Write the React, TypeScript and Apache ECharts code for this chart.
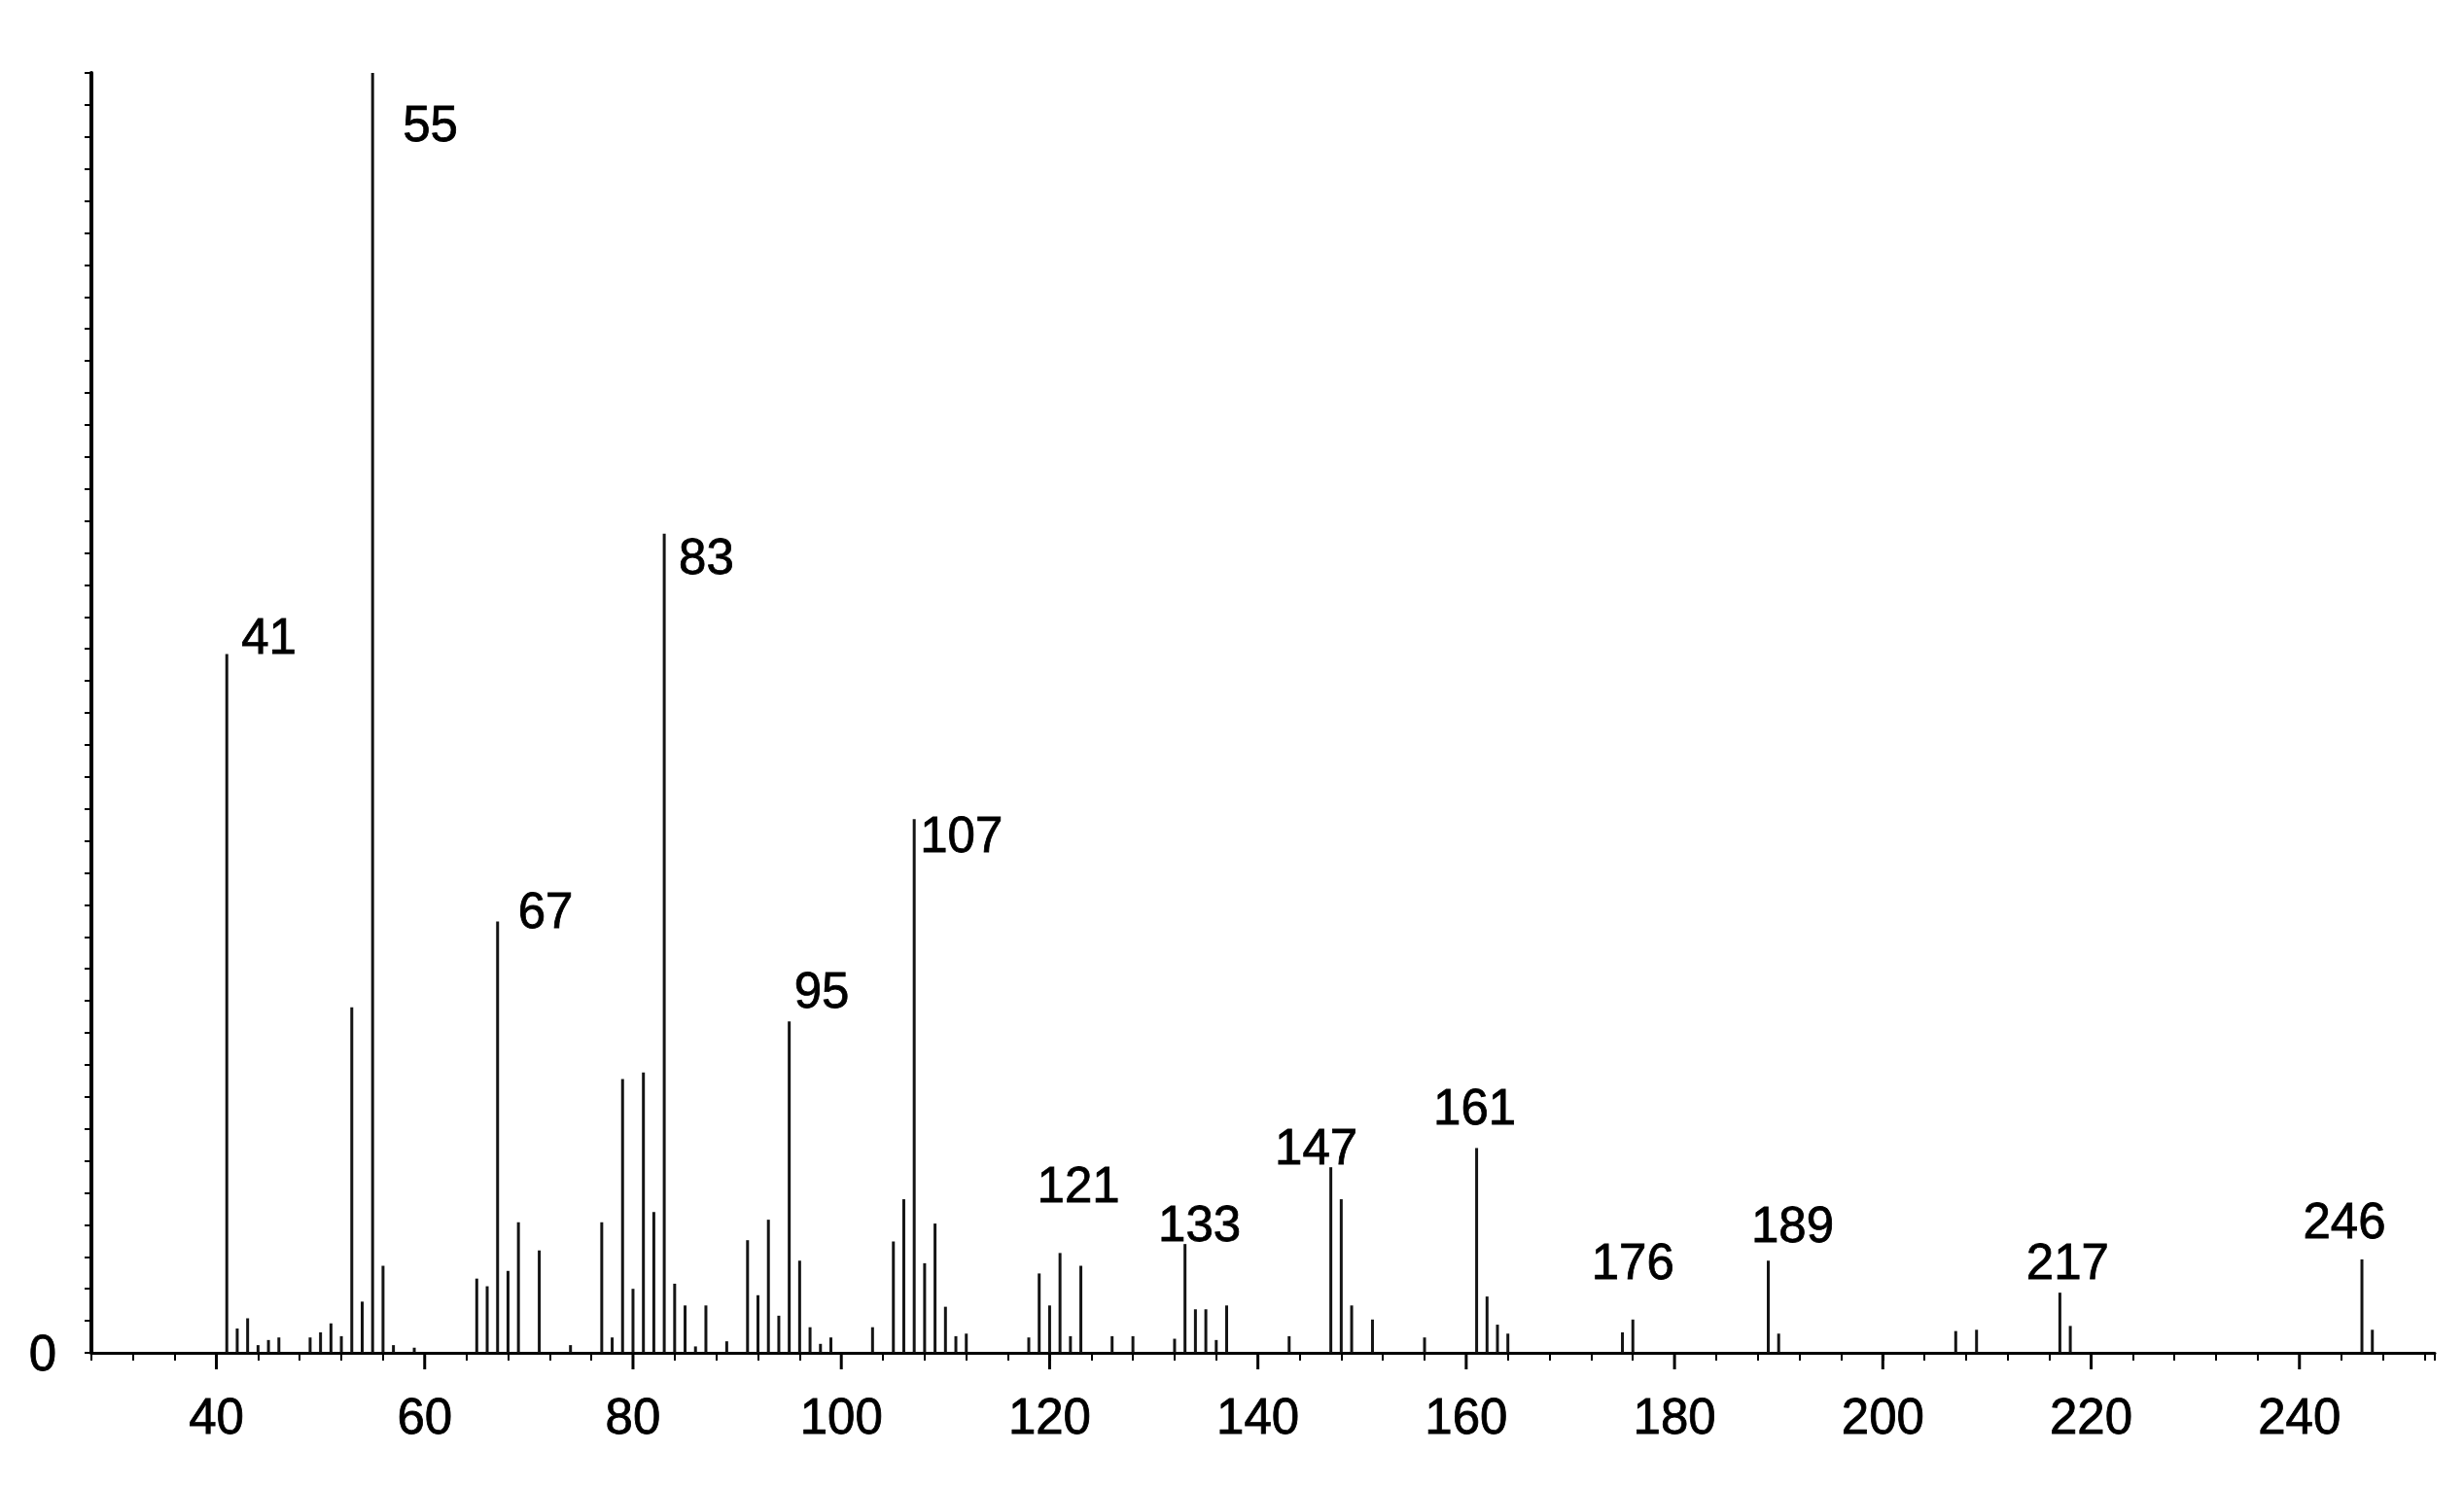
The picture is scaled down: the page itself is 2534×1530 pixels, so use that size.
import React, { useEffect, useRef } from "react";
import * as echarts from "echarts";

// m/z of each peak and its relative intensity (%)
const peakMz = [
  41, 42, 43, 44, 45, 46, 49, 50, 51, 52, 53, 54, 55, 56, 57, 59,
  65, 66, 67, 68, 69, 71, 74, 77, 78, 79, 80, 81, 82, 83, 84, 85, 86, 87, 89,
  91, 92, 93, 94, 95, 96, 97, 98, 99, 103, 105, 106, 107, 108, 109, 110, 111, 112,
  118, 119, 120, 121, 122, 123, 126, 128, 132, 133, 134, 135, 136, 137, 143,
  147, 148, 149, 151, 156, 161, 162, 163, 164, 175, 176, 189, 190,
  207, 209, 217, 218, 246, 247,
];
const peakIntensity = [
  54.6, 1.9, 2.7, 0.6, 1.0, 1.2, 1.2, 1.6, 2.3, 1.3, 27.0, 4.0, 100, 6.8, 0.6, 0.4,
  5.8, 5.2, 33.7, 6.4, 10.2, 8.0, 0.6, 10.2, 1.2, 21.4, 5.0, 21.9, 11.0, 64.0, 5.4, 3.7, 0.5, 3.7, 0.9,
  8.8, 4.5, 10.4, 2.9, 25.9, 7.2, 2.0, 0.7, 1.2, 2.0, 8.7, 12.0, 41.7, 7.0, 10.1, 3.6, 1.3, 1.5,
  1.2, 6.2, 3.7, 7.8, 1.3, 6.8, 1.3, 1.3, 1.1, 8.5, 3.4, 3.4, 1.0, 3.7, 1.3,
  14.5, 12.0, 3.7, 2.6, 1.2, 16.0, 4.4, 2.2, 1.5, 1.6, 2.6, 7.2, 1.5,
  1.7, 1.8, 4.7, 2.1, 7.3, 1.8,
];
const labelledMz = [41, 55, 67, 83, 95, 107, 121, 133, 147, 161, 176, 189, 217, 246];
const xMajorTicks = [40, 60, 80, 100, 120, 140, 160, 180, 200, 220, 240];

// label placement: [dx from peak, dy from peak top, align]
const labelPlacement: Record<number, [number, number, string]> = {
  41: [15, -18, "left"],
  55: [31, 52, "left"],
  67: [21, -11, "left"],
  83: [15, 24, "left"],
  95: [5, -32, "left"],
  107: [6, 16, "left"],
  121: [19, -70, "center"],
  133: [15, -21, "center"],
  147: [-15, -21, "center"],
  161: [-2, -42, "center"],
  176: [0, -59, "center"],
  189: [25, -37, "center"],
  217: [8, -32, "center"],
  246: [-18, -39, "center"],
};

const FONT = "'Liberation Sans', Arial, sans-serif";
const BAR_W = 3;

export default function App() {
  const ref = useRef<HTMLDivElement>(null);
  useEffect(() => {
    if (!ref.current) return;
    const chart = echarts.init(ref.current, null, { renderer: "svg" });
    const barData = peakMz.map((m, i) => {
      const item: any = { value: [m, peakIntensity[i]] };
      if (labelledMz.includes(m)) {
        const p = labelPlacement[m];
        item.label = {
          show: true,
          position: [BAR_W / 2 + p[0], p[1]],
          align: p[2],
          verticalAlign: "middle",
        };
      }
      return item;
    });
    chart.setOption({
      animation: false,
      backgroundColor: "#ffffff",
      grid: { left: 94, right: 30, top: 75, bottom: 139, containLabel: false },
      xAxis: {
        type: "value",
        min: 28,
        max: 253,
        interval: 4,
        axisLine: { show: true, lineStyle: { color: "#000", width: 3 } },
        axisTick: { show: true, length: 8, lineStyle: { color: "#000", width: 2 } },
        axisLabel: {
          margin: 40,
          fontSize: 51,
          fontFamily: FONT,
          color: "#000",
          textBorderColor: "#000",
          textBorderWidth: 0.8,
          formatter: (v: number) => (v % 20 === 0 ? String(v) : ""),
        },
        splitLine: { show: false },
      },
      yAxis: {
        type: "value",
        min: 0,
        max: 100,
        interval: 2.5,
        axisLine: { show: true, lineStyle: { color: "#000", width: 4 } },
        axisTick: { show: true, length: 7, lineStyle: { color: "#000", width: 2 } },
        axisLabel: {
          margin: 36,
          fontSize: 51,
          fontFamily: FONT,
          color: "#000",
          textBorderColor: "#000",
          textBorderWidth: 0.8,
          formatter: (v: number) => (v === 0 ? "0" : ""),
        },
        splitLine: { show: false },
      },
      series: [
        {
          type: "bar",
          data: barData,
          barWidth: BAR_W,
          itemStyle: { color: "#141414" },
          silent: true,
          label: {
            show: false,
            fontSize: 51,
            fontFamily: FONT,
            color: "#000",
            textBorderColor: "#000",
            textBorderWidth: 0.8,
            formatter: (p: any) => String(p.value[0]),
          },
        },
        {
          type: "custom",
          clip: false,
          silent: true,
          data: xMajorTicks.map((t) => [t, 0]),
          renderItem: (params: any, api: any) => {
            const p = api.coord([api.value(0), 0]);
            return {
              type: "line",
              shape: { x1: p[0], y1: p[1], x2: p[0], y2: p[1] + 17 },
              style: { stroke: "#000", lineWidth: 3 },
            };
          },
        },
      ],
    });
    return () => chart.dispose();
  }, []);
  return (
    <div
      ref={ref}
      style={{ position: "fixed", left: 0, top: 0, width: 2534, height: 1530, background: "#fff" }}
    />
  );
}
